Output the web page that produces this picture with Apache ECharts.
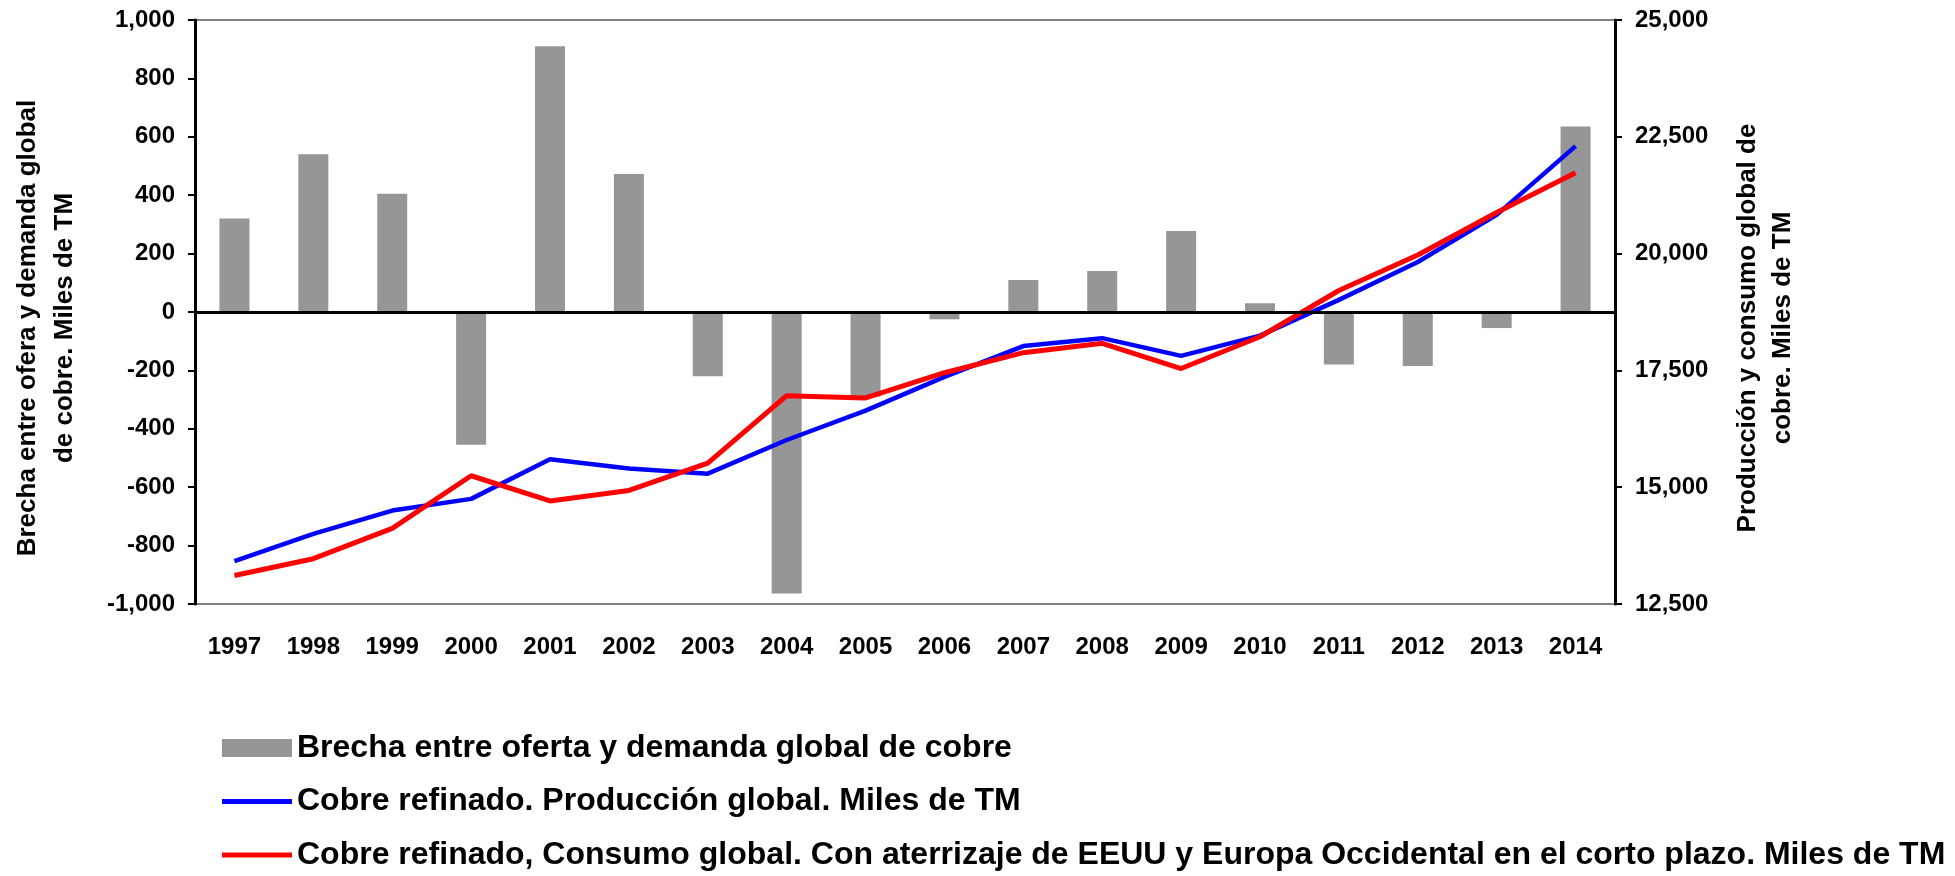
<!DOCTYPE html>
<html>
<head>
<meta charset="utf-8">
<script src="https://cdn.jsdelivr.net/npm/echarts@6/dist/echarts.min.js"></script>
<style>
    html, body { margin: 0; padding: 0; background: #fff; }
    #chart { width: 1955px; height: 876px; }
</style>
</head>
<body>
<div id="chart"></div>
<script>
    // categorias (años)
    var years = ['1997', '1998', '1999', '2000', '2001', '2002', '2003', '2004', '2005',
        '2006', '2007', '2008', '2009', '2010', '2011', '2012', '2013', '2014'];
    // brecha oferta - demanda (eje izquierdo)
    var brecha = [320, 540, 405, -455, 910, 473, -220, -964, -290,
        -25, 110, 140, 277, 30, -180, -185, -55, 635];
    // produccion global (eje derecho)
    var produccion = [13420, 14000, 14500, 14750, 15600, 15400, 15290, 16010, 16640,
        17360, 18020, 18190, 17810, 18245, 19010, 19820, 20830, 22300];
    // consumo global (eje derecho)
    var consumo = [13110, 13470, 14120, 15245, 14705, 14930, 15515, 16960, 16910,
        17450, 17880, 18080, 17540, 18220, 19210, 19970, 20880, 21730];

    var nombres = [
        'Brecha entre oferta y demanda global de cobre',
        'Cobre refinado. Producción global. Miles de TM',
        'Cobre refinado, Consumo global. Con aterrizaje de EEUU y Europa Occidental en el corto plazo. Miles de TM'
    ];

    var fuente = 'Arial, "Liberation Sans", sans-serif';
    var miles = function (v) { return v.toLocaleString('en-US'); };

    var chart = echarts.init(document.getElementById('chart'));
    chart.setOption({
        animation: false,
        textStyle: { fontFamily: fuente },
        grid: {
            left: 195,
            right: 340,
            top: 20,
            bottom: 272,
            show: true,
            borderColor: '#808080',
            borderWidth: 2
        },
        legend: {
            orient: 'vertical',
            left: 222,
            bottom: 4,
            padding: 0,
            itemWidth: 70,
            itemHeight: 18,
            itemGap: 19.5,
            selectedMode: false,
            textStyle: {
                fontFamily: fuente,
                fontSize: 32,
                lineHeight: 34,
                fontWeight: 'bold',
                color: '#000'
            },
            data: [
                { name: nombres[0], icon: 'rect' },
                { name: nombres[1], icon: 'path://M0,0H70V5H0Z' },
                { name: nombres[2], icon: 'path://M0,0H70V5H0Z' }
            ]
        },
        xAxis: {
            type: 'category',
            data: years,
            axisLine: { show: false },
            axisTick: { show: false },
            axisLabel: { color: '#000', fontSize: 24, fontWeight: 'bold', margin: 31, interval: 0 }
        },
        yAxis: [
            {
                type: 'value',
                min: -1000,
                max: 1000,
                interval: 200,
                name: 'Brecha entre ofera y demanda global\nde cobre. Miles de TM',
                nameLocation: 'middle',
                nameGap: 112,
                nameTextStyle: { color: '#000', fontSize: 26, fontWeight: 'bold', lineHeight: 37, padding: [0, 32, 0, 0] },
                splitLine: { show: false },
                axisLine: { show: true, lineStyle: { color: '#000', width: 3 } },
                axisTick: { show: true, length: 7, lineStyle: { color: '#000', width: 2 } },
                axisLabel: { color: '#000', fontSize: 24, fontWeight: 'bold', margin: 20, formatter: miles }
            },
            {
                type: 'value',
                min: 12500,
                max: 25000,
                interval: 2500,
                position: 'right',
                name: 'Producción y consumo global de\ncobre. Miles de TM',
                nameLocation: 'middle',
                nameGap: 115,
                nameTextStyle: { color: '#000', fontSize: 26, fontWeight: 'bold', lineHeight: 35, padding: [0, 32, 0, 0] },
                splitLine: { show: false },
                axisLine: { show: true, lineStyle: { color: '#000', width: 3 } },
                axisTick: { show: true, length: 7, lineStyle: { color: '#000', width: 2 } },
                axisLabel: { color: '#000', fontSize: 24, fontWeight: 'bold', margin: 20, formatter: miles }
            }
        ],
        series: [
            {
                name: nombres[0],
                type: 'bar',
                yAxisIndex: 0,
                data: brecha,
                barWidth: 30,
                itemStyle: { color: '#969696' },
                markLine: {
                    silent: true,
                    symbol: 'none',
                    label: { show: false },
                    lineStyle: { color: '#000', width: 3, type: 'solid' },
                    data: [{ yAxis: 0 }]
                }
            },
            {
                name: nombres[1],
                type: 'line',
                yAxisIndex: 1,
                data: produccion,
                symbol: 'none',
                itemStyle: { color: '#0000ff' },
                lineStyle: { color: '#0000ff', width: 4.5 }
            },
            {
                name: nombres[2],
                type: 'line',
                yAxisIndex: 1,
                data: consumo,
                symbol: 'none',
                itemStyle: { color: '#ff0000' },
                lineStyle: { color: '#ff0000', width: 5 }
            }
        ]
    });
</script>
</body>
</html>
